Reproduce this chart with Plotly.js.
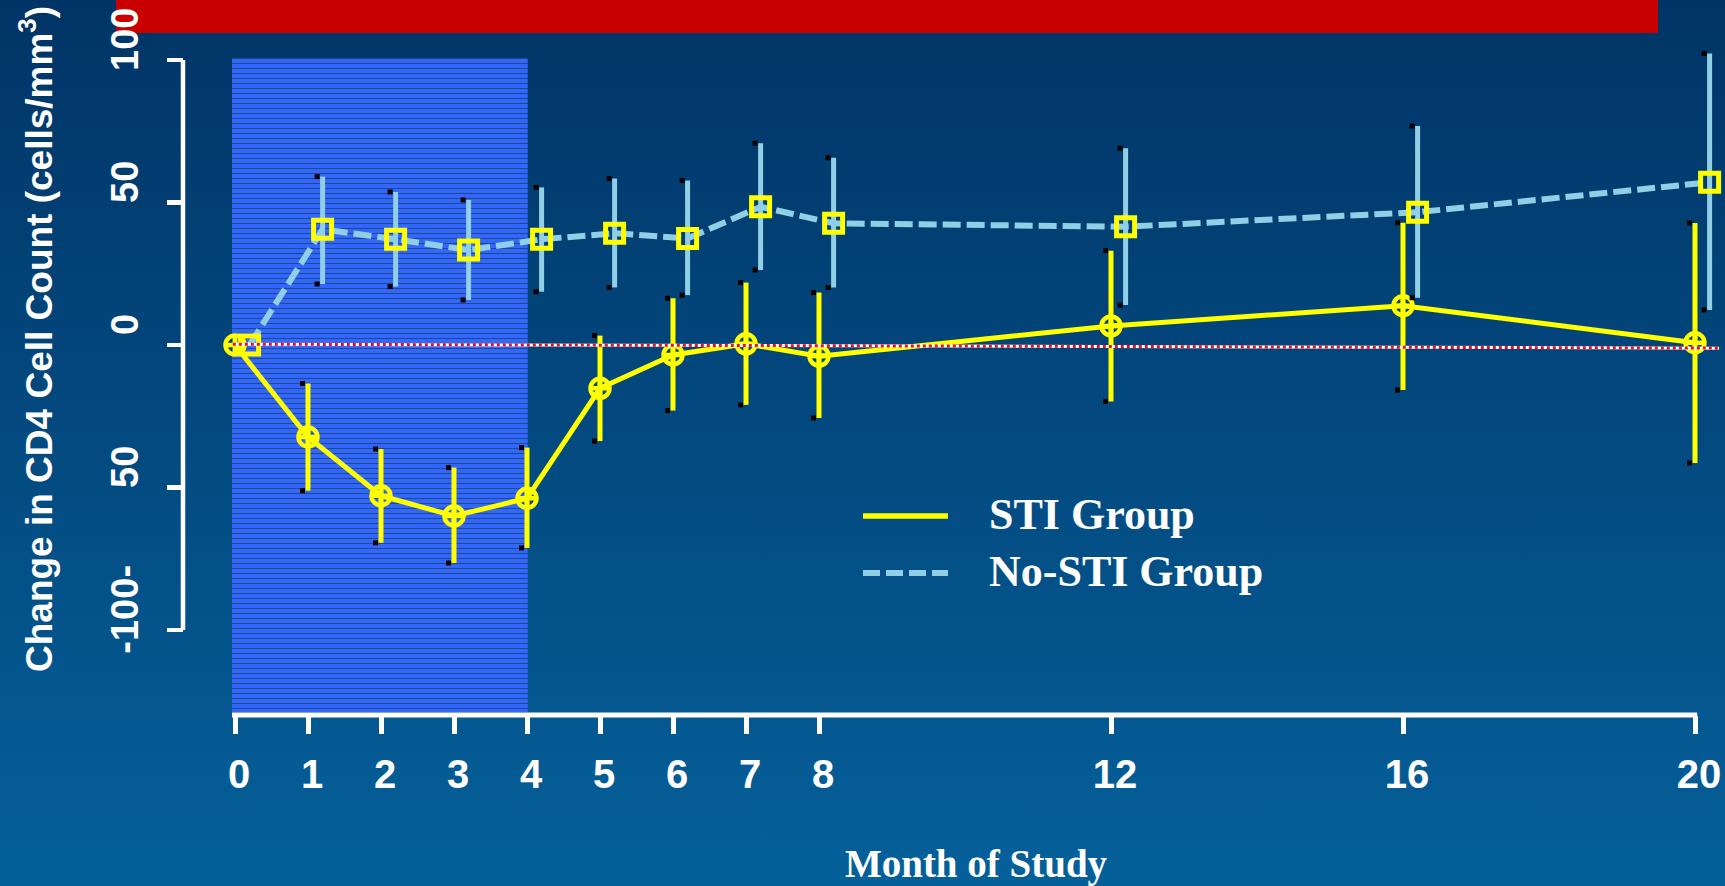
<!DOCTYPE html>
<html><head><meta charset="utf-8">
<script src="https://cdn.plot.ly/plotly-3.0.1.min.js"></script>
<style>
html,body{margin:0;padding:0;width:1725px;height:886px;overflow:hidden;
background:linear-gradient(to bottom,#013466 0%,#05609A 100%);}
#chart{width:1725px;height:886px;}
</style></head><body><div id="chart"></div>
<script>
// ---- data ----
const months = [0, 1, 2, 3, 4, 5, 6, 7, 8, 12, 16, 20];
const monthLabels = ['0', '1', '2', '3', '4', '5', '6', '7', '8', '12', '16', '20'];
const stiMean = [0, -32.3, -52.9, -60.0, -53.8, -15.2, -3.5, 0.4, -3.9, 6.7, 13.8, 0.8];
const stiHigh = [null, -13.5, -36.5, -43.0, -36.0, 3.3, 16.4, 21.9, 18.4, 33.1, 42.9, 42.8];
const stiLow = [null, -51.1, -69.4, -76.5, -71.2, -33.7, -23.0, -21.0, -25.6, -19.8, -15.8, -41.4];
const noStiMean = [0, 40.6, 37.1, 33.3, 37.1, 39.2, 37.4, 48.5, 42.7, 41.5, 46.6, 57.1];
const noStiHigh = [null, 59.1, 53.7, 50.9, 55.3, 58.4, 57.7, 70.8, 65.7, 69.0, 76.8, 102.3];
const noStiLow = [null, 21.4, 20.5, 15.8, 18.7, 20.2, 17.5, 26.3, 20.2, 14.0, 16.6, 12.3];
const seriesNames = ['STI Group', 'No-STI Group'];
const yTickVals = [100, 50, 0, -50, -100];
const yTickText = ['100', '50', '0', '50', '-100-'];
const interruptionMonths = [0, 4];
const yTitle = 'Change in CD4 Cell Count (cells/mm<sup>3</sup>)';
const xTitle = 'Month of Study';

// ---- styles ----
const YELLOW = '#FFFF00';
const LIGHTBLUE = '#91CFE6';
const DODGE = 0.2;
const CAP_OFF = 0.075;
const X_RANGE = [-0.0411, 20.3425];
const Y_RANGE = [-129.82, 104.91];
const SHADE_Y = [-128.8, 100.7];

const errUp = (m, h) => m.map((v, i) => h[i] == null ? 0 : h[i] - v);
const errDn = (m, l) => m.map((v, i) => l[i] == null ? 0 : v - l[i]);
const capsX = (xs) => xs.concat(xs).map(v => v - CAP_OFF);
const capsY = (h, l) => h.concat(l);

const noStiX = months.map(v => v + DODGE);
const shadeLeft = X_RANGE[0];
const shadeRight = interruptionMonths[1] + 0.01;

const traces = [
  {
    type: 'bar', x: [(shadeLeft + shadeRight) / 2], width: [shadeRight - shadeLeft],
    base: [SHADE_Y[0]], y: [SHADE_Y[1] - SHADE_Y[0]],
    marker: { color: '#3366FF', line: { width: 0 },
      pattern: { shape: '-', fgcolor: '#1D4C86', bgcolor: '#3366FF', size: 5, solidity: 0.22 } },
    hoverinfo: 'skip', showlegend: false
  },
  {
    type: 'scatter', mode: 'lines+markers', name: seriesNames[1],
    x: noStiX, y: noStiMean, cliponaxis: false,
    line: { color: LIGHTBLUE, width: 6, dash: '18px,6px' },
    marker: { symbol: 'square-open', size: 18, color: YELLOW, line: { width: 5, color: YELLOW } },
    error_y: { type: 'data', symmetric: false, array: errUp(noStiMean, noStiHigh),
      arrayminus: errDn(noStiMean, noStiLow), color: LIGHTBLUE, thickness: 5, width: 0 },
    showlegend: false
  },
  {
    type: 'scatter', mode: 'lines+markers', name: seriesNames[0],
    x: months, y: stiMean, cliponaxis: false,
    line: { color: YELLOW, width: 5 },
    marker: { symbol: 'circle-cross-open', size: 19, color: YELLOW, line: { width: 4.5, color: YELLOW } },
    error_y: { type: 'data', symmetric: false, array: errUp(stiMean, stiHigh),
      arrayminus: errDn(stiMean, stiLow), color: YELLOW, thickness: 5, width: 0 },
    showlegend: false
  },
  {
    type: 'scatter', mode: 'markers', x: capsX(months), y: capsY(stiHigh, stiLow),
    marker: { symbol: 'square', size: 5, color: '#000000' }, cliponaxis: false,
    hoverinfo: 'skip', showlegend: false
  },
  {
    type: 'scatter', mode: 'markers', x: capsX(noStiX), y: capsY(noStiHigh, noStiLow),
    marker: { symbol: 'square', size: 5, color: '#000000' }, cliponaxis: false,
    hoverinfo: 'skip', showlegend: false
  }
];

const W = 1725, H = 886, L = 183, R = 5, T = 46, B = 171;
const PW = W - L - R, PH = H - T - B;
const px = v => (v - L) / PW;
const py = v => (H - B - v) / PH;

const legendFont = { family: 'Liberation Serif, Times New Roman, serif', size: 44, color: '#FFFFFF', weight: 'bold' };

const layout = {
  width: W, height: H,
  margin: { l: L, r: R, t: T, b: B },
  paper_bgcolor: 'rgba(0,0,0,0)', plot_bgcolor: 'rgba(0,0,0,0)',
  showlegend: false,
  xaxis: {
    domain: [px(232), 1], range: X_RANGE, showgrid: false, zeroline: false, showline: false,
    tickmode: 'array', tickvals: months, ticktext: monthLabels,
    ticks: 'outside', ticklen: 18, tickwidth: 5, tickcolor: '#FFFFFF',
    ticklabelstandoff: 6, ticklabelshift: 4,
    tickfont: { family: 'Liberation Sans, Arial, sans-serif', size: 40, color: '#FFFFFF', weight: 'bold' },
    title: { text: xTitle, standoff: 62,
      font: { family: 'Liberation Serif, Times New Roman, serif', size: 39, color: '#FFFFFF', weight: 'bold' } }
  },
  yaxis: {
    anchor: 'free', position: 0, range: Y_RANGE, showgrid: false, zeroline: false, showline: false,
    tickmode: 'array', tickvals: yTickVals, ticktext: yTickText, tickangle: -90,
    ticks: 'outside', ticklen: 16, tickwidth: 4.5, tickcolor: '#FFFFFF',
    ticklabelshift: -15, ticklabelstandoff: 14,
    tickfont: { family: 'Liberation Sans, Arial, sans-serif', size: 38, color: '#FFFFFF', weight: 'bold' }
  },
  shapes: [
    { type: 'rect', xref: 'paper', yref: 'paper', x0: px(116), x1: px(1658), y0: py(33), y1: py(0),
      fillcolor: '#C80000', line: { width: 0 }, layer: 'below' },
    { type: 'line', xref: 'paper', yref: 'y', x0: 0, x1: 0, y0: -100, y1: 100,
      line: { color: '#FFFFFF', width: 4.5 } },
    { type: 'line', xref: 'x', yref: 'paper', x0: X_RANGE[0], x1: 20.03, y0: 0, y1: 0,
      line: { color: '#FFFFFF', width: 5 } },
    { type: 'line', xref: 'x', yref: 'y', x0: -0.03, x1: 20.33, y0: 0.3, y1: -1.1,
      line: { color: '#FFFFFF', width: 3 } },
    { type: 'line', xref: 'x', yref: 'y', x0: -0.03, x1: 20.33, y0: 0.3, y1: -1.1,
      line: { color: '#E8101A', width: 3, dash: '3px,3px' } },
    { type: 'line', xref: 'paper', yref: 'paper', x0: px(863), x1: px(948), y0: py(516), y1: py(516),
      line: { color: YELLOW, width: 5.5 } },
    { type: 'line', xref: 'paper', yref: 'paper', x0: px(863), x1: px(948), y0: py(573), y1: py(573),
      line: { color: LIGHTBLUE, width: 6, dash: '17px,6px' } }
  ],
  annotations: [
    { xref: 'paper', yref: 'paper', x: px(987), y: py(514), xanchor: 'left', yanchor: 'middle',
      text: seriesNames[0], showarrow: false, font: legendFont },
    { xref: 'paper', yref: 'paper', x: px(987), y: py(571), xanchor: 'left', yanchor: 'middle',
      text: seriesNames[1], showarrow: false, font: legendFont },
    { xref: 'paper', yref: 'paper', x: px(36), y: py(339), xanchor: 'center', yanchor: 'middle',
      textangle: -90, text: yTitle, showarrow: false,
      font: { family: 'Liberation Sans, Arial, sans-serif', size: 37, color: '#FFFFFF', weight: 'bold' } }
  ]
};

Plotly.newPlot('chart', traces, layout, { displayModeBar: false, staticPlot: true });
</script></body></html>
